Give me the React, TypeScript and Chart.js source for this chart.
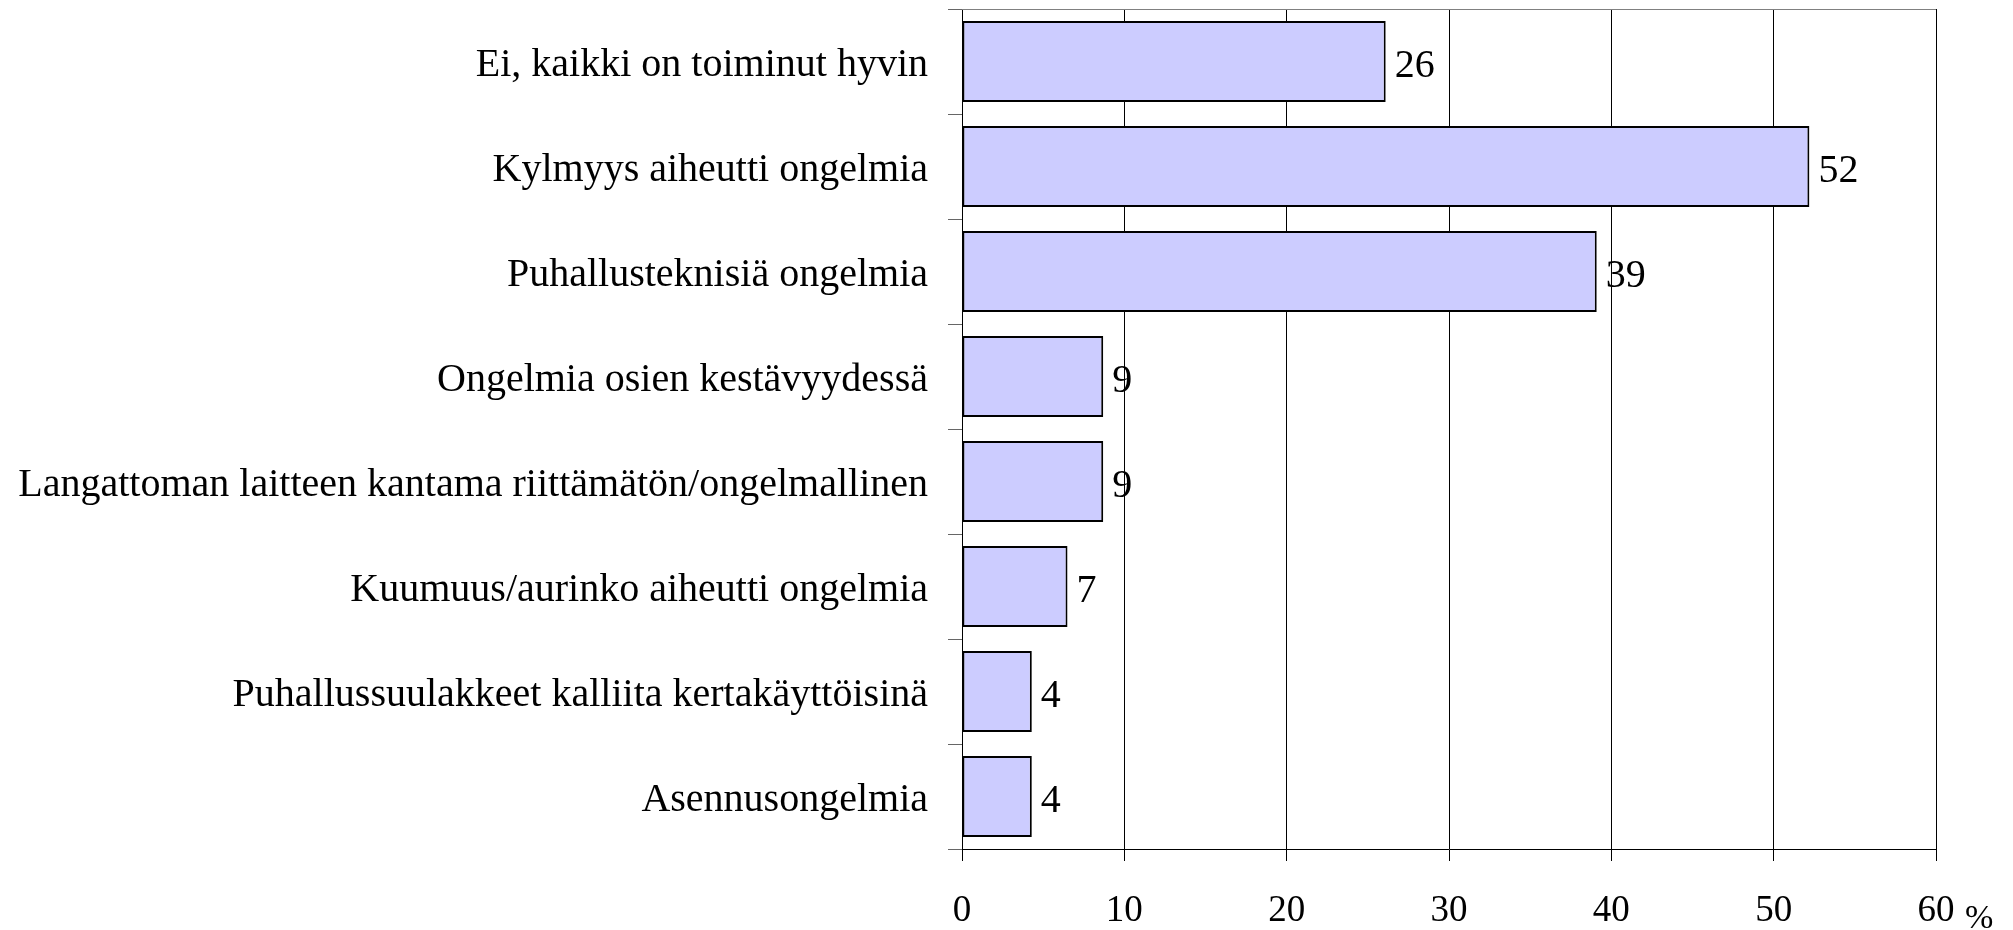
import React, { useEffect, useRef } from "react";
import { Chart, registerables } from "chart.js";

Chart.register(...registerables);

const categories: string[] = [
  "Ei, kaikki on toiminut hyvin",
  "Kylmyys aiheutti ongelmia",
  "Puhallusteknisiä ongelmia",
  "Ongelmia osien kestävyydessä",
  "Langattoman laitteen kantama riittämätön/ongelmallinen",
  "Kuumuus/aurinko aiheutti ongelmia",
  "Puhallussuulakkeet kalliita kertakäyttöisinä",
  "Asennusongelmia",
];

const values: number[] = [26.1, 52.2, 39.1, 8.7, 8.7, 6.5, 4.3, 4.3];

const xTicks: number[] = [0, 10, 20, 30, 40, 50, 60];
const unitLabel = "%";

const FONT = "'Liberation Serif', 'Times New Roman', serif";

const extrasPlugin = {
  id: "extras",
  afterDatasetsDraw(chart: any) {
    const ctx = chart.ctx;
    const area = chart.chartArea;
    const xs = chart.scales.x;
    // top border
    ctx.save();
    ctx.strokeStyle = "#808080";
    ctx.lineWidth = 1;
    ctx.beginPath();
    ctx.moveTo(area.left, area.top + 0.5);
    ctx.lineTo(area.right, area.top + 0.5);
    ctx.stroke();

    // value labels
    const meta = chart.getDatasetMeta(0);
    ctx.fillStyle = "#000";
    ctx.font = `40px ${FONT}`;
    ctx.textAlign = "left";
    ctx.textBaseline = "middle";
    meta.data.forEach((bar: any, i: number) => {
      const v = values[i];
      ctx.fillText(String(Math.round(v)), bar.x + 9, bar.y + 5);
    });

    // unit label next to last tick
    ctx.font = `34px ${FONT}`;
    ctx.textBaseline = "alphabetic";
    const lastX = xs.getPixelForValue(xTicks[xTicks.length - 1]);
    ctx.fillText(unitLabel, lastX + 29, 928);
    ctx.restore();
  },
};

export default function App() {
  const ref = useRef<HTMLCanvasElement | null>(null);

  useEffect(() => {
    if (!ref.current) return;
    const chart = new Chart(ref.current, {
      type: "bar",
      data: {
        labels: categories,
        datasets: [
          {
            data: values,
            backgroundColor: "#CCCCFF",
            borderColor: "#000000",
            borderWidth: 2,
            borderSkipped: false,
            barPercentage: 0.77,
            categoryPercentage: 1,
          },
        ],
      },
      options: {
        indexAxis: "y",
        animation: false,
        responsive: false,
        devicePixelRatio: 1,
        layout: { padding: { left: 0, right: 77, top: 9, bottom: 0 } },
        plugins: {
          legend: { display: false },
          tooltip: { enabled: false },
          title: { display: false },
        },
        scales: {
          x: {
            type: "linear",
            min: 0,
            max: 60,
            afterFit: (s: any) => {
              s.height = 81;
              s.paddingLeft = 0;
              s.paddingRight = 0;
            },
            afterBuildTicks: (s: any) => {
              s.ticks = xTicks.map((v) => ({ value: v }));
            },
            ticks: {
              color: "#000",
              font: { family: FONT, size: 37 },
              padding: 28,
              maxRotation: 0,
              autoSkip: false,
            },
            grid: {
              color: "#000",
              lineWidth: 1,
              tickLength: 12,
              drawTicks: true,
            },
            border: { display: true, color: "#000", width: 1 },
          },
          y: {
            afterFit: (s: any) => {
              s.width = 962;
              s.paddingTop = 0;
              s.paddingBottom = 0;
            },
            ticks: {
              color: "#000",
              font: { family: FONT, size: 40 },
              padding: 20,
              labelOffset: 4,
              autoSkip: false,
            },
            grid: {
              offset: true,
              drawOnChartArea: false,
              drawTicks: true,
              tickLength: 14,
              color: "#666",
              lineWidth: 1,
            },
            border: { display: true, color: "#000", width: 1 },
          },
        },
      },
      plugins: [extrasPlugin],
    });
    return () => chart.destroy();
  }, []);

  return (
    <div style={{ position: "absolute", left: 0, top: 0, width: 2013, height: 930, background: "#fff" }}>
      <canvas ref={ref} width={2013} height={930} style={{ display: "block" }} />
    </div>
  );
}
